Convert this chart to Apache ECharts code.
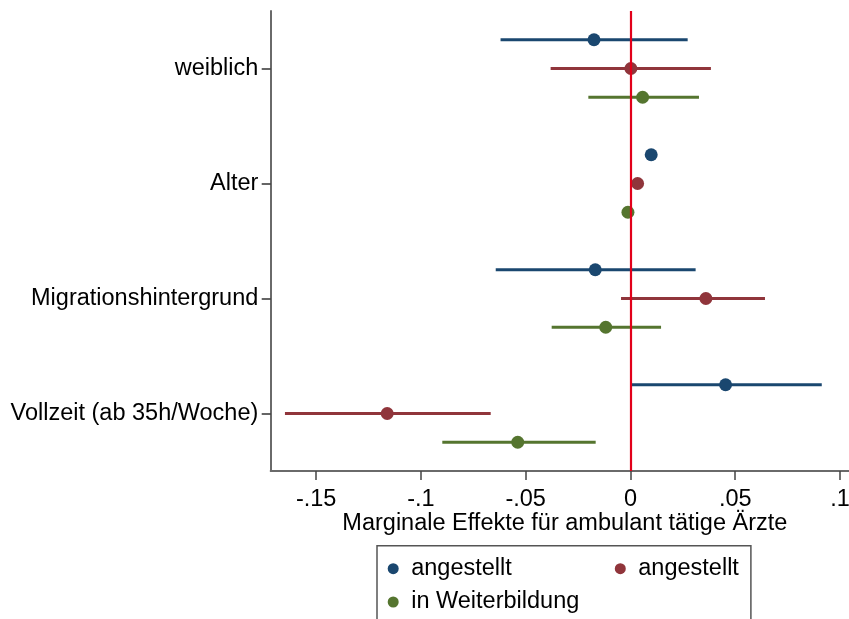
<!DOCTYPE html>
<html>
<head>
<meta charset="utf-8">
<script src="https://cdn.jsdelivr.net/npm/echarts@6/dist/echarts.min.js"></script>
<style>
html,body{margin:0;padding:0;background:#fff;overflow:hidden;}
#chart{width:849px;height:619px;}
</style>
</head>
<body>
<div id="chart"></div>
<script>
// ---- data ----
const categories = ['weiblich', 'Alter', 'Migrationshintergrund', 'Vollzeit (ab 35h/Woche)'];

const seriesNames = ['angestellt_a', 'angestellt_b', 'weiter'];
const legendLabels = ['angestellt', 'angestellt', 'in Weiterbildung'];

// angestellt (blue)
const angestelltA_est = [-0.0174, 0.0099, -0.0168, 0.0454];
const angestelltA_lo  = [-0.0620, 0.0087, -0.0643, -0.0002];
const angestelltA_hi  = [ 0.0273, 0.0111,  0.0311,  0.0913];
// angestellt (red)
const angestelltB_est = [ 0.0002, 0.0034,  0.0360, -0.1161];
const angestelltB_lo  = [-0.0381, 0.0022, -0.0045, -0.1649];
const angestelltB_hi  = [ 0.0384, 0.0046,  0.0642, -0.0667];
// in Weiterbildung (green)
const weiter_est = [ 0.0058, -0.0012, -0.0118, -0.0538];
const weiter_lo  = [-0.0201, -0.0022, -0.0376, -0.0898];
const weiter_hi  = [ 0.0327, -0.0002,  0.0146, -0.0166];

const xTicks = [-0.15, -0.1, -0.05, 0, 0.05, 0.1];
const xTickLabels = ['-.15', '-.1', '-.05', '0', '.05', '.1'];
const refValue = 0;

// ---- layout / style ----
const colors = ['#1a476f', '#90353b', '#55752f'];
const offsets = [-0.25, 0, 0.25];
const FONT = '"Liberation Sans", Arial, sans-serif';
const FS = 23.5;

const groups = [
  {est: angestelltA_est, lo: angestelltA_lo, hi: angestelltA_hi},
  {est: angestelltB_est, lo: angestelltB_lo, hi: angestelltB_hi},
  {est: weiter_est, lo: weiter_lo, hi: weiter_hi}
];

const series = [];
groups.forEach((g, gi) => {
  series.push({
    name: seriesNames[gi] + '_ci',
    type: 'custom',
    z: 2,
    silent: true,
    encode: {x: [0, 1], y: 2},
    data: categories.map((c, ci) => [g.lo[ci], g.hi[ci], ci + 1 + offsets[gi]]),
    renderItem: function (params, api) {
      const a = api.coord([api.value(0), api.value(2)]);
      const b = api.coord([api.value(1), api.value(2)]);
      return {
        type: 'line',
        shape: {x1: a[0], y1: a[1], x2: b[0], y2: b[1]},
        style: {stroke: colors[gi], lineWidth: 2.8}
      };
    }
  });
});
// reference line
series.push({
  name: 'ref',
  type: 'line',
  z: 3,
  data: [],
  silent: true,
  markLine: {
    silent: true,
    symbol: 'none',
    label: {show: false},
    lineStyle: {color: '#e2001a', width: 2.2, type: 'solid'},
    data: [{xAxis: refValue}]
  }
});
groups.forEach((g, gi) => {
  series.push({
    name: seriesNames[gi],
    type: 'scatter',
    z: 4,
    symbol: 'circle',
    symbolSize: 13,
    itemStyle: {color: colors[gi], opacity: 1},
    data: categories.map((c, ci) => [g.est[ci], ci + 1 + offsets[gi]])
  });
});

const legendFmt = function (name) { return legendLabels[seriesNames.indexOf(name)]; };

const option = {
  backgroundColor: '#fff',
  animation: false,
  grid: {left: 270.7, right: 0, top: 11, bottom: 148, containLabel: false, outerBoundsMode: 'none'},
  xAxis: {
    type: 'value',
    min: -0.1717,
    max: 0.1043,
    name: 'Marginale Effekte für ambulant tätige Ärzte',
    nameLocation: 'middle',
    nameGap: 41,
    nameMoveOverlap: false,
    nameTextStyle: {fontFamily: FONT, fontSize: FS, color: '#000', padding: [0, 0, 0, 10]},
    axisLine: {show: true, onZero: false, lineStyle: {color: '#6a6a6a', width: 2}},
    axisTick: {show: true, inside: false, length: 9, customValues: xTicks, lineStyle: {color: '#444', width: 1.5}},
    axisLabel: {
      show: true, margin: 17, customValues: xTicks, hideOverlap: false,
      fontFamily: FONT, fontSize: FS, color: '#000',
      formatter: function (v) {
        let idx = 0, best = Infinity;
        xTicks.forEach((t, i) => { if (Math.abs(t - v) < best) { best = Math.abs(t - v); idx = i; } });
        return xTickLabels[idx];
      }
    },
    splitLine: {show: false}
  },
  yAxis: {
    type: 'value',
    inverse: true,
    min: 0.5,
    max: 4.5,
    axisLine: {show: true, onZero: false, lineStyle: {color: '#6a6a6a', width: 2}},
    axisTick: {show: true, inside: false, length: 9, customValues: [1, 2, 3, 4], lineStyle: {color: '#333', width: 1.5}},
    axisLabel: {
      show: true, margin: 12.4, customValues: [1, 2, 3, 4],
      fontFamily: FONT, fontSize: FS, color: '#000',
      formatter: function (v) { return categories[Math.round(v) - 1]; }
    },
    splitLine: {show: false}
  },
  legend: [
    {
      data: [seriesNames[0], seriesNames[1]],
      formatter: legendFmt,
      orient: 'horizontal',
      left: 377,
      top: 545.7,
      padding: [11, 12, 80, 10.7],
      borderColor: '#555',
      borderWidth: 1.5,
      itemWidth: 26,
      itemHeight: 11,
      itemGap: 103,
      icon: 'circle',
      selectedMode: false,
      textStyle: {fontFamily: FONT, fontSize: FS, color: '#000'}
    },
    {
      data: [seriesNames[2]],
      formatter: legendFmt,
      orient: 'horizontal',
      left: 387.7,
      top: 590,
      padding: 0,
      itemWidth: 26,
      itemHeight: 11,
      icon: 'circle',
      selectedMode: false,
      textStyle: {fontFamily: FONT, fontSize: FS, color: '#000'}
    }
  ],
  series: series
};

const chart = echarts.init(document.getElementById('chart'), null, {renderer: 'canvas'});
chart.setOption(option);
</script>
</body>
</html>
